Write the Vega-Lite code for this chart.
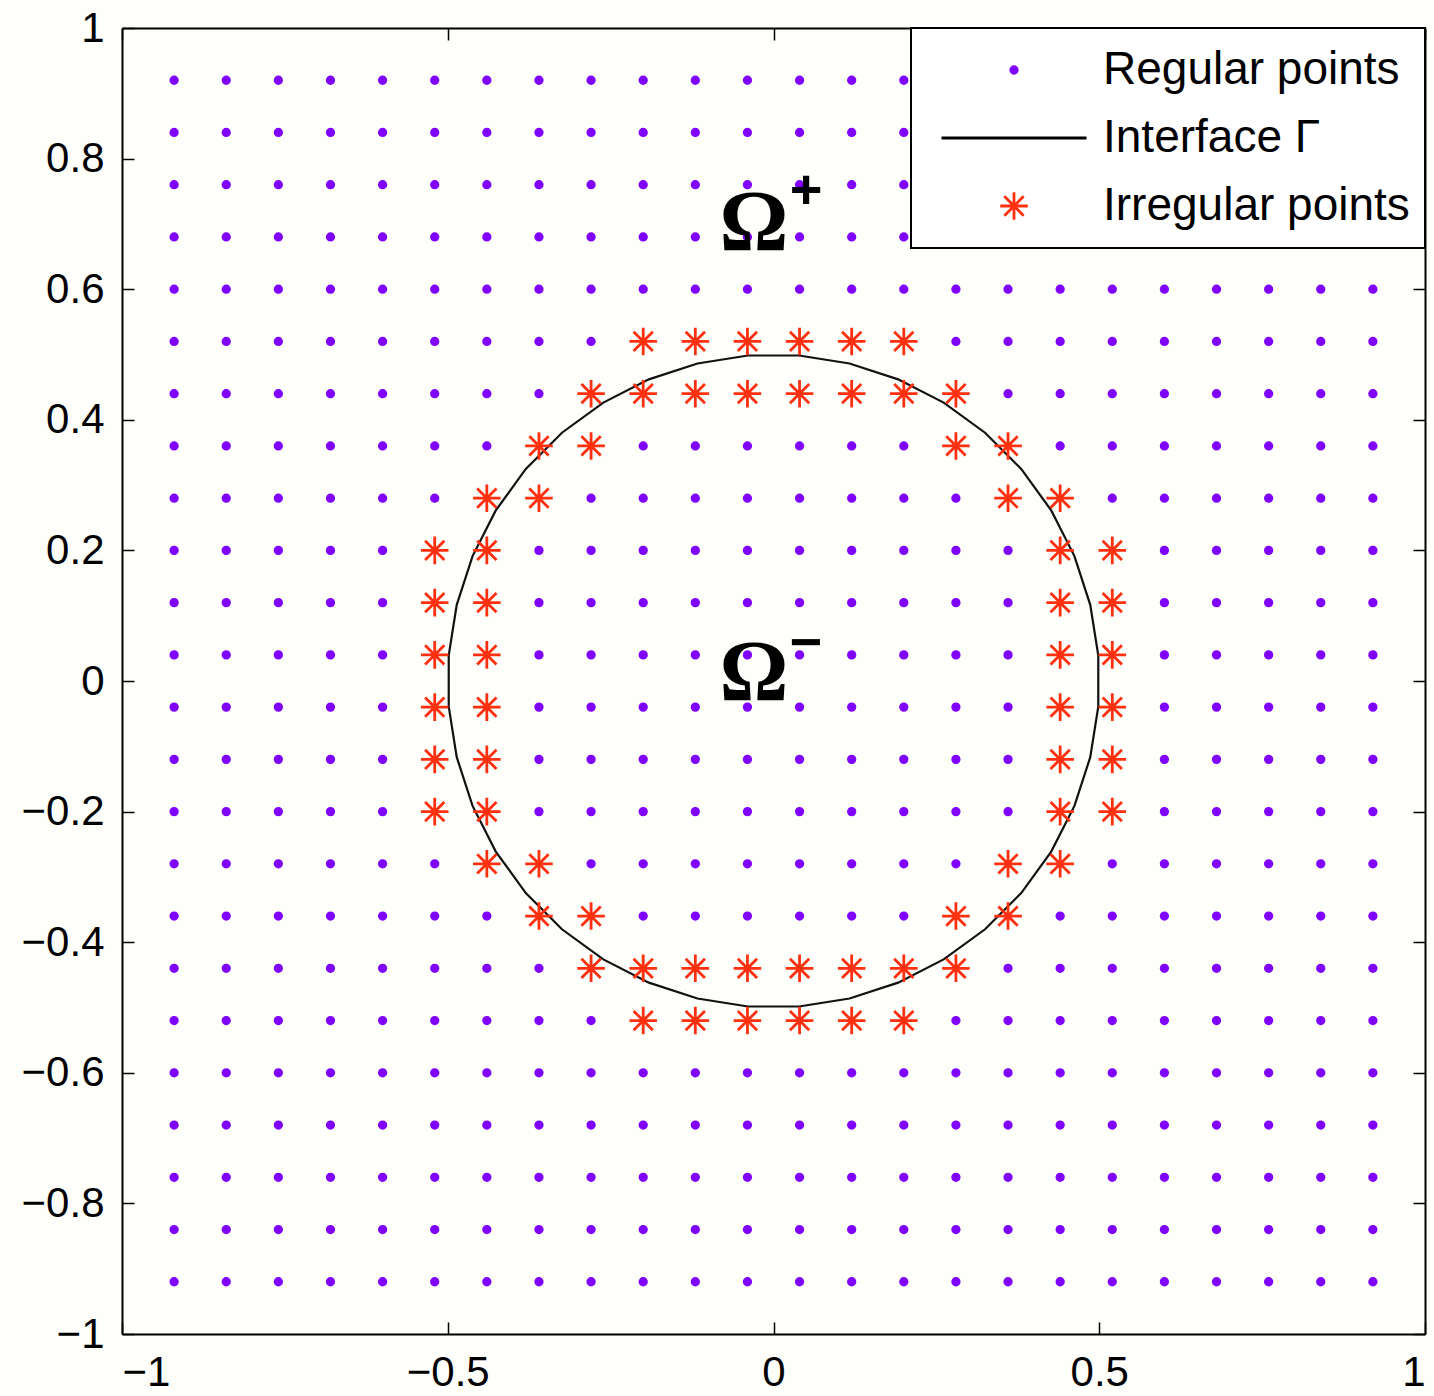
{
"$schema":"https://vega.github.io/schema/vega-lite/v6.json",
"width":1303,"height":1306,
"autosize":{"type":"none"},
"padding":{"left":122,"top":28,"right":9,"bottom":62},
"background":"#fefefb",
"config":{"view":{"stroke":null},"legend":{"strokeWidth":2},"axis":{"grid":false,"domainColor":"black","domainWidth":2,"tickColor":"black","tickWidth":1.5,"labelFont":"Liberation Sans","labelFontSize":42,"labelColor":"black","title":null}},
"datasets":{
"circ":[{"i":0,"x":0.4985,"y":0.0392},{"i":1,"x":0.4862,"y":0.1167},{"i":2,"x":0.4619,"y":0.1913},{"i":3,"x":0.4263,"y":0.2612},{"i":4,"x":0.3802,"y":0.3247},{"i":5,"x":0.3247,"y":0.3802},{"i":6,"x":0.2612,"y":0.4263},{"i":7,"x":0.1913,"y":0.4619},{"i":8,"x":0.1167,"y":0.4862},{"i":9,"x":0.0392,"y":0.4985},{"i":10,"x":-0.0392,"y":0.4985},{"i":11,"x":-0.1167,"y":0.4862},{"i":12,"x":-0.1913,"y":0.4619},{"i":13,"x":-0.2612,"y":0.4263},{"i":14,"x":-0.3247,"y":0.3802},{"i":15,"x":-0.3802,"y":0.3247},{"i":16,"x":-0.4263,"y":0.2612},{"i":17,"x":-0.4619,"y":0.1913},{"i":18,"x":-0.4862,"y":0.1167},{"i":19,"x":-0.4985,"y":0.0392},{"i":20,"x":-0.4985,"y":-0.0392},{"i":21,"x":-0.4862,"y":-0.1167},{"i":22,"x":-0.4619,"y":-0.1913},{"i":23,"x":-0.4263,"y":-0.2612},{"i":24,"x":-0.3802,"y":-0.3247},{"i":25,"x":-0.3247,"y":-0.3802},{"i":26,"x":-0.2612,"y":-0.4263},{"i":27,"x":-0.1913,"y":-0.4619},{"i":28,"x":-0.1167,"y":-0.4862},{"i":29,"x":-0.0392,"y":-0.4985},{"i":30,"x":0.0392,"y":-0.4985},{"i":31,"x":0.1167,"y":-0.4862},{"i":32,"x":0.1913,"y":-0.4619},{"i":33,"x":0.2612,"y":-0.4263},{"i":34,"x":0.3247,"y":-0.3802},{"i":35,"x":0.3802,"y":-0.3247},{"i":36,"x":0.4263,"y":-0.2612},{"i":37,"x":0.4619,"y":-0.1913},{"i":38,"x":0.4862,"y":-0.1167},{"i":39,"x":0.4985,"y":-0.0392},{"i":40,"x":0.4985,"y":0.0392}],
"omega":[{"x":-0.03,"y":0.66,"t":"Ω"},{"x":-0.03,"y":-0.029,"t":"Ω"}],
"sign":[{"x":0.05,"y":0.75,"t":"+"},{"x":0.05,"y":0.057,"t":"−"}],
"pts":[
{"x":-0.92,"y":0.92,"k":"R"},{"x":-0.84,"y":0.92,"k":"R"},{"x":-0.76,"y":0.92,"k":"R"},{"x":-0.68,"y":0.92,"k":"R"},{"x":-0.6,"y":0.92,"k":"R"},{"x":-0.52,"y":0.92,"k":"R"},{"x":-0.44,"y":0.92,"k":"R"},{"x":-0.36,"y":0.92,"k":"R"},{"x":-0.28,"y":0.92,"k":"R"},{"x":-0.2,"y":0.92,"k":"R"},{"x":-0.12,"y":0.92,"k":"R"},{"x":-0.04,"y":0.92,"k":"R"},{"x":0.04,"y":0.92,"k":"R"},{"x":0.12,"y":0.92,"k":"R"},{"x":0.2,"y":0.92,"k":"R"},{"x":0.28,"y":0.92,"k":"R"},{"x":0.36,"y":0.92,"k":"R"},{"x":0.44,"y":0.92,"k":"R"},{"x":0.52,"y":0.92,"k":"R"},{"x":0.6,"y":0.92,"k":"R"},{"x":0.68,"y":0.92,"k":"R"},{"x":0.76,"y":0.92,"k":"R"},{"x":0.84,"y":0.92,"k":"R"},{"x":0.92,"y":0.92,"k":"R"},
{"x":-0.92,"y":0.84,"k":"R"},{"x":-0.84,"y":0.84,"k":"R"},{"x":-0.76,"y":0.84,"k":"R"},{"x":-0.68,"y":0.84,"k":"R"},{"x":-0.6,"y":0.84,"k":"R"},{"x":-0.52,"y":0.84,"k":"R"},{"x":-0.44,"y":0.84,"k":"R"},{"x":-0.36,"y":0.84,"k":"R"},{"x":-0.28,"y":0.84,"k":"R"},{"x":-0.2,"y":0.84,"k":"R"},{"x":-0.12,"y":0.84,"k":"R"},{"x":-0.04,"y":0.84,"k":"R"},{"x":0.04,"y":0.84,"k":"R"},{"x":0.12,"y":0.84,"k":"R"},{"x":0.2,"y":0.84,"k":"R"},{"x":0.28,"y":0.84,"k":"R"},{"x":0.36,"y":0.84,"k":"R"},{"x":0.44,"y":0.84,"k":"R"},{"x":0.52,"y":0.84,"k":"R"},{"x":0.6,"y":0.84,"k":"R"},{"x":0.68,"y":0.84,"k":"R"},{"x":0.76,"y":0.84,"k":"R"},{"x":0.84,"y":0.84,"k":"R"},{"x":0.92,"y":0.84,"k":"R"},
{"x":-0.92,"y":0.76,"k":"R"},{"x":-0.84,"y":0.76,"k":"R"},{"x":-0.76,"y":0.76,"k":"R"},{"x":-0.68,"y":0.76,"k":"R"},{"x":-0.6,"y":0.76,"k":"R"},{"x":-0.52,"y":0.76,"k":"R"},{"x":-0.44,"y":0.76,"k":"R"},{"x":-0.36,"y":0.76,"k":"R"},{"x":-0.28,"y":0.76,"k":"R"},{"x":-0.2,"y":0.76,"k":"R"},{"x":-0.12,"y":0.76,"k":"R"},{"x":-0.04,"y":0.76,"k":"R"},{"x":0.04,"y":0.76,"k":"R"},{"x":0.12,"y":0.76,"k":"R"},{"x":0.2,"y":0.76,"k":"R"},{"x":0.28,"y":0.76,"k":"R"},{"x":0.36,"y":0.76,"k":"R"},{"x":0.44,"y":0.76,"k":"R"},{"x":0.52,"y":0.76,"k":"R"},{"x":0.6,"y":0.76,"k":"R"},{"x":0.68,"y":0.76,"k":"R"},{"x":0.76,"y":0.76,"k":"R"},{"x":0.84,"y":0.76,"k":"R"},{"x":0.92,"y":0.76,"k":"R"},
{"x":-0.92,"y":0.68,"k":"R"},{"x":-0.84,"y":0.68,"k":"R"},{"x":-0.76,"y":0.68,"k":"R"},{"x":-0.68,"y":0.68,"k":"R"},{"x":-0.6,"y":0.68,"k":"R"},{"x":-0.52,"y":0.68,"k":"R"},{"x":-0.44,"y":0.68,"k":"R"},{"x":-0.36,"y":0.68,"k":"R"},{"x":-0.28,"y":0.68,"k":"R"},{"x":-0.2,"y":0.68,"k":"R"},{"x":-0.12,"y":0.68,"k":"R"},{"x":-0.04,"y":0.68,"k":"R"},{"x":0.04,"y":0.68,"k":"R"},{"x":0.12,"y":0.68,"k":"R"},{"x":0.2,"y":0.68,"k":"R"},{"x":0.28,"y":0.68,"k":"R"},{"x":0.36,"y":0.68,"k":"R"},{"x":0.44,"y":0.68,"k":"R"},{"x":0.52,"y":0.68,"k":"R"},{"x":0.6,"y":0.68,"k":"R"},{"x":0.68,"y":0.68,"k":"R"},{"x":0.76,"y":0.68,"k":"R"},{"x":0.84,"y":0.68,"k":"R"},{"x":0.92,"y":0.68,"k":"R"},
{"x":-0.92,"y":0.6,"k":"R"},{"x":-0.84,"y":0.6,"k":"R"},{"x":-0.76,"y":0.6,"k":"R"},{"x":-0.68,"y":0.6,"k":"R"},{"x":-0.6,"y":0.6,"k":"R"},{"x":-0.52,"y":0.6,"k":"R"},{"x":-0.44,"y":0.6,"k":"R"},{"x":-0.36,"y":0.6,"k":"R"},{"x":-0.28,"y":0.6,"k":"R"},{"x":-0.2,"y":0.6,"k":"R"},{"x":-0.12,"y":0.6,"k":"R"},{"x":-0.04,"y":0.6,"k":"R"},{"x":0.04,"y":0.6,"k":"R"},{"x":0.12,"y":0.6,"k":"R"},{"x":0.2,"y":0.6,"k":"R"},{"x":0.28,"y":0.6,"k":"R"},{"x":0.36,"y":0.6,"k":"R"},{"x":0.44,"y":0.6,"k":"R"},{"x":0.52,"y":0.6,"k":"R"},{"x":0.6,"y":0.6,"k":"R"},{"x":0.68,"y":0.6,"k":"R"},{"x":0.76,"y":0.6,"k":"R"},{"x":0.84,"y":0.6,"k":"R"},{"x":0.92,"y":0.6,"k":"R"},
{"x":-0.92,"y":0.52,"k":"R"},{"x":-0.84,"y":0.52,"k":"R"},{"x":-0.76,"y":0.52,"k":"R"},{"x":-0.68,"y":0.52,"k":"R"},{"x":-0.6,"y":0.52,"k":"R"},{"x":-0.52,"y":0.52,"k":"R"},{"x":-0.44,"y":0.52,"k":"R"},{"x":-0.36,"y":0.52,"k":"R"},{"x":-0.28,"y":0.52,"k":"R"},{"x":-0.2,"y":0.52,"k":"I"},{"x":-0.12,"y":0.52,"k":"I"},{"x":-0.04,"y":0.52,"k":"I"},{"x":0.04,"y":0.52,"k":"I"},{"x":0.12,"y":0.52,"k":"I"},{"x":0.2,"y":0.52,"k":"I"},{"x":0.28,"y":0.52,"k":"R"},{"x":0.36,"y":0.52,"k":"R"},{"x":0.44,"y":0.52,"k":"R"},{"x":0.52,"y":0.52,"k":"R"},{"x":0.6,"y":0.52,"k":"R"},{"x":0.68,"y":0.52,"k":"R"},{"x":0.76,"y":0.52,"k":"R"},{"x":0.84,"y":0.52,"k":"R"},{"x":0.92,"y":0.52,"k":"R"},
{"x":-0.92,"y":0.44,"k":"R"},{"x":-0.84,"y":0.44,"k":"R"},{"x":-0.76,"y":0.44,"k":"R"},{"x":-0.68,"y":0.44,"k":"R"},{"x":-0.6,"y":0.44,"k":"R"},{"x":-0.52,"y":0.44,"k":"R"},{"x":-0.44,"y":0.44,"k":"R"},{"x":-0.36,"y":0.44,"k":"R"},{"x":-0.28,"y":0.44,"k":"I"},{"x":-0.2,"y":0.44,"k":"I"},{"x":-0.12,"y":0.44,"k":"I"},{"x":-0.04,"y":0.44,"k":"I"},{"x":0.04,"y":0.44,"k":"I"},{"x":0.12,"y":0.44,"k":"I"},{"x":0.2,"y":0.44,"k":"I"},{"x":0.28,"y":0.44,"k":"I"},{"x":0.36,"y":0.44,"k":"R"},{"x":0.44,"y":0.44,"k":"R"},{"x":0.52,"y":0.44,"k":"R"},{"x":0.6,"y":0.44,"k":"R"},{"x":0.68,"y":0.44,"k":"R"},{"x":0.76,"y":0.44,"k":"R"},{"x":0.84,"y":0.44,"k":"R"},{"x":0.92,"y":0.44,"k":"R"},
{"x":-0.92,"y":0.36,"k":"R"},{"x":-0.84,"y":0.36,"k":"R"},{"x":-0.76,"y":0.36,"k":"R"},{"x":-0.68,"y":0.36,"k":"R"},{"x":-0.6,"y":0.36,"k":"R"},{"x":-0.52,"y":0.36,"k":"R"},{"x":-0.44,"y":0.36,"k":"R"},{"x":-0.36,"y":0.36,"k":"I"},{"x":-0.28,"y":0.36,"k":"I"},{"x":-0.2,"y":0.36,"k":"R"},{"x":-0.12,"y":0.36,"k":"R"},{"x":-0.04,"y":0.36,"k":"R"},{"x":0.04,"y":0.36,"k":"R"},{"x":0.12,"y":0.36,"k":"R"},{"x":0.2,"y":0.36,"k":"R"},{"x":0.28,"y":0.36,"k":"I"},{"x":0.36,"y":0.36,"k":"I"},{"x":0.44,"y":0.36,"k":"R"},{"x":0.52,"y":0.36,"k":"R"},{"x":0.6,"y":0.36,"k":"R"},{"x":0.68,"y":0.36,"k":"R"},{"x":0.76,"y":0.36,"k":"R"},{"x":0.84,"y":0.36,"k":"R"},{"x":0.92,"y":0.36,"k":"R"},
{"x":-0.92,"y":0.28,"k":"R"},{"x":-0.84,"y":0.28,"k":"R"},{"x":-0.76,"y":0.28,"k":"R"},{"x":-0.68,"y":0.28,"k":"R"},{"x":-0.6,"y":0.28,"k":"R"},{"x":-0.52,"y":0.28,"k":"R"},{"x":-0.44,"y":0.28,"k":"I"},{"x":-0.36,"y":0.28,"k":"I"},{"x":-0.28,"y":0.28,"k":"R"},{"x":-0.2,"y":0.28,"k":"R"},{"x":-0.12,"y":0.28,"k":"R"},{"x":-0.04,"y":0.28,"k":"R"},{"x":0.04,"y":0.28,"k":"R"},{"x":0.12,"y":0.28,"k":"R"},{"x":0.2,"y":0.28,"k":"R"},{"x":0.28,"y":0.28,"k":"R"},{"x":0.36,"y":0.28,"k":"I"},{"x":0.44,"y":0.28,"k":"I"},{"x":0.52,"y":0.28,"k":"R"},{"x":0.6,"y":0.28,"k":"R"},{"x":0.68,"y":0.28,"k":"R"},{"x":0.76,"y":0.28,"k":"R"},{"x":0.84,"y":0.28,"k":"R"},{"x":0.92,"y":0.28,"k":"R"},
{"x":-0.92,"y":0.2,"k":"R"},{"x":-0.84,"y":0.2,"k":"R"},{"x":-0.76,"y":0.2,"k":"R"},{"x":-0.68,"y":0.2,"k":"R"},{"x":-0.6,"y":0.2,"k":"R"},{"x":-0.52,"y":0.2,"k":"I"},{"x":-0.44,"y":0.2,"k":"I"},{"x":-0.36,"y":0.2,"k":"R"},{"x":-0.28,"y":0.2,"k":"R"},{"x":-0.2,"y":0.2,"k":"R"},{"x":-0.12,"y":0.2,"k":"R"},{"x":-0.04,"y":0.2,"k":"R"},{"x":0.04,"y":0.2,"k":"R"},{"x":0.12,"y":0.2,"k":"R"},{"x":0.2,"y":0.2,"k":"R"},{"x":0.28,"y":0.2,"k":"R"},{"x":0.36,"y":0.2,"k":"R"},{"x":0.44,"y":0.2,"k":"I"},{"x":0.52,"y":0.2,"k":"I"},{"x":0.6,"y":0.2,"k":"R"},{"x":0.68,"y":0.2,"k":"R"},{"x":0.76,"y":0.2,"k":"R"},{"x":0.84,"y":0.2,"k":"R"},{"x":0.92,"y":0.2,"k":"R"},
{"x":-0.92,"y":0.12,"k":"R"},{"x":-0.84,"y":0.12,"k":"R"},{"x":-0.76,"y":0.12,"k":"R"},{"x":-0.68,"y":0.12,"k":"R"},{"x":-0.6,"y":0.12,"k":"R"},{"x":-0.52,"y":0.12,"k":"I"},{"x":-0.44,"y":0.12,"k":"I"},{"x":-0.36,"y":0.12,"k":"R"},{"x":-0.28,"y":0.12,"k":"R"},{"x":-0.2,"y":0.12,"k":"R"},{"x":-0.12,"y":0.12,"k":"R"},{"x":-0.04,"y":0.12,"k":"R"},{"x":0.04,"y":0.12,"k":"R"},{"x":0.12,"y":0.12,"k":"R"},{"x":0.2,"y":0.12,"k":"R"},{"x":0.28,"y":0.12,"k":"R"},{"x":0.36,"y":0.12,"k":"R"},{"x":0.44,"y":0.12,"k":"I"},{"x":0.52,"y":0.12,"k":"I"},{"x":0.6,"y":0.12,"k":"R"},{"x":0.68,"y":0.12,"k":"R"},{"x":0.76,"y":0.12,"k":"R"},{"x":0.84,"y":0.12,"k":"R"},{"x":0.92,"y":0.12,"k":"R"},
{"x":-0.92,"y":0.04,"k":"R"},{"x":-0.84,"y":0.04,"k":"R"},{"x":-0.76,"y":0.04,"k":"R"},{"x":-0.68,"y":0.04,"k":"R"},{"x":-0.6,"y":0.04,"k":"R"},{"x":-0.52,"y":0.04,"k":"I"},{"x":-0.44,"y":0.04,"k":"I"},{"x":-0.36,"y":0.04,"k":"R"},{"x":-0.28,"y":0.04,"k":"R"},{"x":-0.2,"y":0.04,"k":"R"},{"x":-0.12,"y":0.04,"k":"R"},{"x":-0.04,"y":0.04,"k":"R"},{"x":0.04,"y":0.04,"k":"R"},{"x":0.12,"y":0.04,"k":"R"},{"x":0.2,"y":0.04,"k":"R"},{"x":0.28,"y":0.04,"k":"R"},{"x":0.36,"y":0.04,"k":"R"},{"x":0.44,"y":0.04,"k":"I"},{"x":0.52,"y":0.04,"k":"I"},{"x":0.6,"y":0.04,"k":"R"},{"x":0.68,"y":0.04,"k":"R"},{"x":0.76,"y":0.04,"k":"R"},{"x":0.84,"y":0.04,"k":"R"},{"x":0.92,"y":0.04,"k":"R"},
{"x":-0.92,"y":-0.04,"k":"R"},{"x":-0.84,"y":-0.04,"k":"R"},{"x":-0.76,"y":-0.04,"k":"R"},{"x":-0.68,"y":-0.04,"k":"R"},{"x":-0.6,"y":-0.04,"k":"R"},{"x":-0.52,"y":-0.04,"k":"I"},{"x":-0.44,"y":-0.04,"k":"I"},{"x":-0.36,"y":-0.04,"k":"R"},{"x":-0.28,"y":-0.04,"k":"R"},{"x":-0.2,"y":-0.04,"k":"R"},{"x":-0.12,"y":-0.04,"k":"R"},{"x":-0.04,"y":-0.04,"k":"R"},{"x":0.04,"y":-0.04,"k":"R"},{"x":0.12,"y":-0.04,"k":"R"},{"x":0.2,"y":-0.04,"k":"R"},{"x":0.28,"y":-0.04,"k":"R"},{"x":0.36,"y":-0.04,"k":"R"},{"x":0.44,"y":-0.04,"k":"I"},{"x":0.52,"y":-0.04,"k":"I"},{"x":0.6,"y":-0.04,"k":"R"},{"x":0.68,"y":-0.04,"k":"R"},{"x":0.76,"y":-0.04,"k":"R"},{"x":0.84,"y":-0.04,"k":"R"},{"x":0.92,"y":-0.04,"k":"R"},
{"x":-0.92,"y":-0.12,"k":"R"},{"x":-0.84,"y":-0.12,"k":"R"},{"x":-0.76,"y":-0.12,"k":"R"},{"x":-0.68,"y":-0.12,"k":"R"},{"x":-0.6,"y":-0.12,"k":"R"},{"x":-0.52,"y":-0.12,"k":"I"},{"x":-0.44,"y":-0.12,"k":"I"},{"x":-0.36,"y":-0.12,"k":"R"},{"x":-0.28,"y":-0.12,"k":"R"},{"x":-0.2,"y":-0.12,"k":"R"},{"x":-0.12,"y":-0.12,"k":"R"},{"x":-0.04,"y":-0.12,"k":"R"},{"x":0.04,"y":-0.12,"k":"R"},{"x":0.12,"y":-0.12,"k":"R"},{"x":0.2,"y":-0.12,"k":"R"},{"x":0.28,"y":-0.12,"k":"R"},{"x":0.36,"y":-0.12,"k":"R"},{"x":0.44,"y":-0.12,"k":"I"},{"x":0.52,"y":-0.12,"k":"I"},{"x":0.6,"y":-0.12,"k":"R"},{"x":0.68,"y":-0.12,"k":"R"},{"x":0.76,"y":-0.12,"k":"R"},{"x":0.84,"y":-0.12,"k":"R"},{"x":0.92,"y":-0.12,"k":"R"},
{"x":-0.92,"y":-0.2,"k":"R"},{"x":-0.84,"y":-0.2,"k":"R"},{"x":-0.76,"y":-0.2,"k":"R"},{"x":-0.68,"y":-0.2,"k":"R"},{"x":-0.6,"y":-0.2,"k":"R"},{"x":-0.52,"y":-0.2,"k":"I"},{"x":-0.44,"y":-0.2,"k":"I"},{"x":-0.36,"y":-0.2,"k":"R"},{"x":-0.28,"y":-0.2,"k":"R"},{"x":-0.2,"y":-0.2,"k":"R"},{"x":-0.12,"y":-0.2,"k":"R"},{"x":-0.04,"y":-0.2,"k":"R"},{"x":0.04,"y":-0.2,"k":"R"},{"x":0.12,"y":-0.2,"k":"R"},{"x":0.2,"y":-0.2,"k":"R"},{"x":0.28,"y":-0.2,"k":"R"},{"x":0.36,"y":-0.2,"k":"R"},{"x":0.44,"y":-0.2,"k":"I"},{"x":0.52,"y":-0.2,"k":"I"},{"x":0.6,"y":-0.2,"k":"R"},{"x":0.68,"y":-0.2,"k":"R"},{"x":0.76,"y":-0.2,"k":"R"},{"x":0.84,"y":-0.2,"k":"R"},{"x":0.92,"y":-0.2,"k":"R"},
{"x":-0.92,"y":-0.28,"k":"R"},{"x":-0.84,"y":-0.28,"k":"R"},{"x":-0.76,"y":-0.28,"k":"R"},{"x":-0.68,"y":-0.28,"k":"R"},{"x":-0.6,"y":-0.28,"k":"R"},{"x":-0.52,"y":-0.28,"k":"R"},{"x":-0.44,"y":-0.28,"k":"I"},{"x":-0.36,"y":-0.28,"k":"I"},{"x":-0.28,"y":-0.28,"k":"R"},{"x":-0.2,"y":-0.28,"k":"R"},{"x":-0.12,"y":-0.28,"k":"R"},{"x":-0.04,"y":-0.28,"k":"R"},{"x":0.04,"y":-0.28,"k":"R"},{"x":0.12,"y":-0.28,"k":"R"},{"x":0.2,"y":-0.28,"k":"R"},{"x":0.28,"y":-0.28,"k":"R"},{"x":0.36,"y":-0.28,"k":"I"},{"x":0.44,"y":-0.28,"k":"I"},{"x":0.52,"y":-0.28,"k":"R"},{"x":0.6,"y":-0.28,"k":"R"},{"x":0.68,"y":-0.28,"k":"R"},{"x":0.76,"y":-0.28,"k":"R"},{"x":0.84,"y":-0.28,"k":"R"},{"x":0.92,"y":-0.28,"k":"R"},
{"x":-0.92,"y":-0.36,"k":"R"},{"x":-0.84,"y":-0.36,"k":"R"},{"x":-0.76,"y":-0.36,"k":"R"},{"x":-0.68,"y":-0.36,"k":"R"},{"x":-0.6,"y":-0.36,"k":"R"},{"x":-0.52,"y":-0.36,"k":"R"},{"x":-0.44,"y":-0.36,"k":"R"},{"x":-0.36,"y":-0.36,"k":"I"},{"x":-0.28,"y":-0.36,"k":"I"},{"x":-0.2,"y":-0.36,"k":"R"},{"x":-0.12,"y":-0.36,"k":"R"},{"x":-0.04,"y":-0.36,"k":"R"},{"x":0.04,"y":-0.36,"k":"R"},{"x":0.12,"y":-0.36,"k":"R"},{"x":0.2,"y":-0.36,"k":"R"},{"x":0.28,"y":-0.36,"k":"I"},{"x":0.36,"y":-0.36,"k":"I"},{"x":0.44,"y":-0.36,"k":"R"},{"x":0.52,"y":-0.36,"k":"R"},{"x":0.6,"y":-0.36,"k":"R"},{"x":0.68,"y":-0.36,"k":"R"},{"x":0.76,"y":-0.36,"k":"R"},{"x":0.84,"y":-0.36,"k":"R"},{"x":0.92,"y":-0.36,"k":"R"},
{"x":-0.92,"y":-0.44,"k":"R"},{"x":-0.84,"y":-0.44,"k":"R"},{"x":-0.76,"y":-0.44,"k":"R"},{"x":-0.68,"y":-0.44,"k":"R"},{"x":-0.6,"y":-0.44,"k":"R"},{"x":-0.52,"y":-0.44,"k":"R"},{"x":-0.44,"y":-0.44,"k":"R"},{"x":-0.36,"y":-0.44,"k":"R"},{"x":-0.28,"y":-0.44,"k":"I"},{"x":-0.2,"y":-0.44,"k":"I"},{"x":-0.12,"y":-0.44,"k":"I"},{"x":-0.04,"y":-0.44,"k":"I"},{"x":0.04,"y":-0.44,"k":"I"},{"x":0.12,"y":-0.44,"k":"I"},{"x":0.2,"y":-0.44,"k":"I"},{"x":0.28,"y":-0.44,"k":"I"},{"x":0.36,"y":-0.44,"k":"R"},{"x":0.44,"y":-0.44,"k":"R"},{"x":0.52,"y":-0.44,"k":"R"},{"x":0.6,"y":-0.44,"k":"R"},{"x":0.68,"y":-0.44,"k":"R"},{"x":0.76,"y":-0.44,"k":"R"},{"x":0.84,"y":-0.44,"k":"R"},{"x":0.92,"y":-0.44,"k":"R"},
{"x":-0.92,"y":-0.52,"k":"R"},{"x":-0.84,"y":-0.52,"k":"R"},{"x":-0.76,"y":-0.52,"k":"R"},{"x":-0.68,"y":-0.52,"k":"R"},{"x":-0.6,"y":-0.52,"k":"R"},{"x":-0.52,"y":-0.52,"k":"R"},{"x":-0.44,"y":-0.52,"k":"R"},{"x":-0.36,"y":-0.52,"k":"R"},{"x":-0.28,"y":-0.52,"k":"R"},{"x":-0.2,"y":-0.52,"k":"I"},{"x":-0.12,"y":-0.52,"k":"I"},{"x":-0.04,"y":-0.52,"k":"I"},{"x":0.04,"y":-0.52,"k":"I"},{"x":0.12,"y":-0.52,"k":"I"},{"x":0.2,"y":-0.52,"k":"I"},{"x":0.28,"y":-0.52,"k":"R"},{"x":0.36,"y":-0.52,"k":"R"},{"x":0.44,"y":-0.52,"k":"R"},{"x":0.52,"y":-0.52,"k":"R"},{"x":0.6,"y":-0.52,"k":"R"},{"x":0.68,"y":-0.52,"k":"R"},{"x":0.76,"y":-0.52,"k":"R"},{"x":0.84,"y":-0.52,"k":"R"},{"x":0.92,"y":-0.52,"k":"R"},
{"x":-0.92,"y":-0.6,"k":"R"},{"x":-0.84,"y":-0.6,"k":"R"},{"x":-0.76,"y":-0.6,"k":"R"},{"x":-0.68,"y":-0.6,"k":"R"},{"x":-0.6,"y":-0.6,"k":"R"},{"x":-0.52,"y":-0.6,"k":"R"},{"x":-0.44,"y":-0.6,"k":"R"},{"x":-0.36,"y":-0.6,"k":"R"},{"x":-0.28,"y":-0.6,"k":"R"},{"x":-0.2,"y":-0.6,"k":"R"},{"x":-0.12,"y":-0.6,"k":"R"},{"x":-0.04,"y":-0.6,"k":"R"},{"x":0.04,"y":-0.6,"k":"R"},{"x":0.12,"y":-0.6,"k":"R"},{"x":0.2,"y":-0.6,"k":"R"},{"x":0.28,"y":-0.6,"k":"R"},{"x":0.36,"y":-0.6,"k":"R"},{"x":0.44,"y":-0.6,"k":"R"},{"x":0.52,"y":-0.6,"k":"R"},{"x":0.6,"y":-0.6,"k":"R"},{"x":0.68,"y":-0.6,"k":"R"},{"x":0.76,"y":-0.6,"k":"R"},{"x":0.84,"y":-0.6,"k":"R"},{"x":0.92,"y":-0.6,"k":"R"},
{"x":-0.92,"y":-0.68,"k":"R"},{"x":-0.84,"y":-0.68,"k":"R"},{"x":-0.76,"y":-0.68,"k":"R"},{"x":-0.68,"y":-0.68,"k":"R"},{"x":-0.6,"y":-0.68,"k":"R"},{"x":-0.52,"y":-0.68,"k":"R"},{"x":-0.44,"y":-0.68,"k":"R"},{"x":-0.36,"y":-0.68,"k":"R"},{"x":-0.28,"y":-0.68,"k":"R"},{"x":-0.2,"y":-0.68,"k":"R"},{"x":-0.12,"y":-0.68,"k":"R"},{"x":-0.04,"y":-0.68,"k":"R"},{"x":0.04,"y":-0.68,"k":"R"},{"x":0.12,"y":-0.68,"k":"R"},{"x":0.2,"y":-0.68,"k":"R"},{"x":0.28,"y":-0.68,"k":"R"},{"x":0.36,"y":-0.68,"k":"R"},{"x":0.44,"y":-0.68,"k":"R"},{"x":0.52,"y":-0.68,"k":"R"},{"x":0.6,"y":-0.68,"k":"R"},{"x":0.68,"y":-0.68,"k":"R"},{"x":0.76,"y":-0.68,"k":"R"},{"x":0.84,"y":-0.68,"k":"R"},{"x":0.92,"y":-0.68,"k":"R"},
{"x":-0.92,"y":-0.76,"k":"R"},{"x":-0.84,"y":-0.76,"k":"R"},{"x":-0.76,"y":-0.76,"k":"R"},{"x":-0.68,"y":-0.76,"k":"R"},{"x":-0.6,"y":-0.76,"k":"R"},{"x":-0.52,"y":-0.76,"k":"R"},{"x":-0.44,"y":-0.76,"k":"R"},{"x":-0.36,"y":-0.76,"k":"R"},{"x":-0.28,"y":-0.76,"k":"R"},{"x":-0.2,"y":-0.76,"k":"R"},{"x":-0.12,"y":-0.76,"k":"R"},{"x":-0.04,"y":-0.76,"k":"R"},{"x":0.04,"y":-0.76,"k":"R"},{"x":0.12,"y":-0.76,"k":"R"},{"x":0.2,"y":-0.76,"k":"R"},{"x":0.28,"y":-0.76,"k":"R"},{"x":0.36,"y":-0.76,"k":"R"},{"x":0.44,"y":-0.76,"k":"R"},{"x":0.52,"y":-0.76,"k":"R"},{"x":0.6,"y":-0.76,"k":"R"},{"x":0.68,"y":-0.76,"k":"R"},{"x":0.76,"y":-0.76,"k":"R"},{"x":0.84,"y":-0.76,"k":"R"},{"x":0.92,"y":-0.76,"k":"R"},
{"x":-0.92,"y":-0.84,"k":"R"},{"x":-0.84,"y":-0.84,"k":"R"},{"x":-0.76,"y":-0.84,"k":"R"},{"x":-0.68,"y":-0.84,"k":"R"},{"x":-0.6,"y":-0.84,"k":"R"},{"x":-0.52,"y":-0.84,"k":"R"},{"x":-0.44,"y":-0.84,"k":"R"},{"x":-0.36,"y":-0.84,"k":"R"},{"x":-0.28,"y":-0.84,"k":"R"},{"x":-0.2,"y":-0.84,"k":"R"},{"x":-0.12,"y":-0.84,"k":"R"},{"x":-0.04,"y":-0.84,"k":"R"},{"x":0.04,"y":-0.84,"k":"R"},{"x":0.12,"y":-0.84,"k":"R"},{"x":0.2,"y":-0.84,"k":"R"},{"x":0.28,"y":-0.84,"k":"R"},{"x":0.36,"y":-0.84,"k":"R"},{"x":0.44,"y":-0.84,"k":"R"},{"x":0.52,"y":-0.84,"k":"R"},{"x":0.6,"y":-0.84,"k":"R"},{"x":0.68,"y":-0.84,"k":"R"},{"x":0.76,"y":-0.84,"k":"R"},{"x":0.84,"y":-0.84,"k":"R"},{"x":0.92,"y":-0.84,"k":"R"},
{"x":-0.92,"y":-0.92,"k":"R"},{"x":-0.84,"y":-0.92,"k":"R"},{"x":-0.76,"y":-0.92,"k":"R"},{"x":-0.68,"y":-0.92,"k":"R"},{"x":-0.6,"y":-0.92,"k":"R"},{"x":-0.52,"y":-0.92,"k":"R"},{"x":-0.44,"y":-0.92,"k":"R"},{"x":-0.36,"y":-0.92,"k":"R"},{"x":-0.28,"y":-0.92,"k":"R"},{"x":-0.2,"y":-0.92,"k":"R"},{"x":-0.12,"y":-0.92,"k":"R"},{"x":-0.04,"y":-0.92,"k":"R"},{"x":0.04,"y":-0.92,"k":"R"},{"x":0.12,"y":-0.92,"k":"R"},{"x":0.2,"y":-0.92,"k":"R"},{"x":0.28,"y":-0.92,"k":"R"},{"x":0.36,"y":-0.92,"k":"R"},{"x":0.44,"y":-0.92,"k":"R"},{"x":0.52,"y":-0.92,"k":"R"},{"x":0.6,"y":-0.92,"k":"R"},{"x":0.68,"y":-0.92,"k":"R"},{"x":0.76,"y":-0.92,"k":"R"},{"x":0.84,"y":-0.92,"k":"R"},{"x":0.92,"y":-0.92,"k":"R"}
]},
"resolve":{"axis":{"x":"independent","y":"independent"}},
"layer":[
{"data":{"name":"circ"},"mark":{"type":"line","color":"#111111","strokeWidth":2.2},
 "encoding":{
  "x":{"field":"x","type":"quantitative","scale":{"domain":[-1,1],"nice":false,"zero":false},"axis":{"orient":"bottom","values":[-1,-0.5,0,0.5,1],"format":"~g","tickSize":-12,"labelPadding":30}},
  "y":{"field":"y","type":"quantitative","scale":{"domain":[-1,1],"nice":false,"zero":false},"axis":{"orient":"left","values":[-1,-0.8,-0.6,-0.4,-0.2,0,0.2,0.4,0.6,0.8,1],"format":"~g","tickSize":-12,"labelPadding":30}},
  "order":{"field":"i","type":"quantitative"}}},
{"data":{"name":"pts"},"mark":{"type":"point","strokeWidth":2.8,"opacity":1},
 "encoding":{
  "x":{"field":"x","type":"quantitative","axis":{"orient":"top","values":[-1,-0.5,0,0.5,1],"labels":false,"tickSize":-12}},
  "y":{"field":"y","type":"quantitative","axis":{"orient":"right","values":[-1,-0.8,-0.6,-0.4,-0.2,0,0.2,0.4,0.6,0.8,1],"labels":false,"tickSize":-12}},
  "fill":{"field":"k","type":"nominal","scale":{"type":"ordinal","domain":["R","G","I"],"range":["#7f00ff","#000000","#ff3010"]},"legend":{"orient":"none","legendX":789,"legendY":0,"title":null,"padding":15,"symbolOffset":14,"labelOffset":15,"clipHeight":54,"rowPadding":14,"symbolStrokeWidth":2.8,"strokeColor":"black","fillColor":"#ffffff","labelFont":"Liberation Sans","labelFontSize":46,"labelLimit":0,"labelColor":"black","labelExpr":"datum.label == 'R' ? 'Regular points' : datum.label == 'G' ? 'Interface Γ' : 'Irregular points'"}},
  "stroke":{"field":"k","type":"nominal","scale":{"type":"ordinal","domain":["R","G","I"],"range":["#7f00ff","#000000","#ff3010"]},"legend":{"orient":"none","legendX":789,"legendY":0,"title":null,"padding":15,"symbolOffset":14,"labelOffset":15,"clipHeight":54,"rowPadding":14,"symbolStrokeWidth":2.8,"strokeColor":"black","fillColor":"#ffffff","labelFont":"Liberation Sans","labelFontSize":46,"labelLimit":0,"labelColor":"black","labelExpr":"datum.label == 'R' ? 'Regular points' : datum.label == 'G' ? 'Interface Γ' : 'Irregular points'"}},
  "shape":{"field":"k","type":"nominal","scale":{"type":"ordinal","domain":["R","G","I"],"range":["circle","stroke","M-1,0L1,0M0,-1L0,1M-0.7,-0.7L0.7,0.7M-0.7,0.7L0.7,-0.7"]},"legend":{"orient":"none","legendX":789,"legendY":0,"title":null,"padding":15,"symbolOffset":14,"labelOffset":15,"clipHeight":54,"rowPadding":14,"symbolStrokeWidth":2.8,"strokeColor":"black","fillColor":"#ffffff","labelFont":"Liberation Sans","labelFontSize":46,"labelLimit":0,"labelColor":"black","labelExpr":"datum.label == 'R' ? 'Regular points' : datum.label == 'G' ? 'Interface Γ' : 'Irregular points'"}},
  "size":{"field":"k","type":"nominal","scale":{"type":"ordinal","domain":["R","G","I"],"range":[42,21025,760]},"legend":{"orient":"none","legendX":789,"legendY":0,"title":null,"padding":15,"symbolOffset":14,"labelOffset":15,"clipHeight":54,"rowPadding":14,"symbolStrokeWidth":2.8,"strokeColor":"black","fillColor":"#ffffff","labelFont":"Liberation Sans","labelFontSize":46,"labelLimit":0,"labelColor":"black","labelExpr":"datum.label == 'R' ? 'Regular points' : datum.label == 'G' ? 'Interface Γ' : 'Irregular points'"}}}},
{"data":{"name":"omega"},"mark":{"type":"text","font":"Liberation Serif","fontSize":86,"fontWeight":"bold","baseline":"alphabetic","align":"center","color":"black"},
 "encoding":{"x":{"field":"x","type":"quantitative","axis":null},"y":{"field":"y","type":"quantitative","axis":null},"text":{"field":"t"}}},
{"data":{"name":"sign"},"mark":{"type":"text","font":"Liberation Sans","fontSize":56,"fontWeight":"bold","baseline":"middle","align":"center","color":"black"},
 "encoding":{"x":{"field":"x","type":"quantitative","axis":null},"y":{"field":"y","type":"quantitative","axis":null},"text":{"field":"t"}}}
]
}
